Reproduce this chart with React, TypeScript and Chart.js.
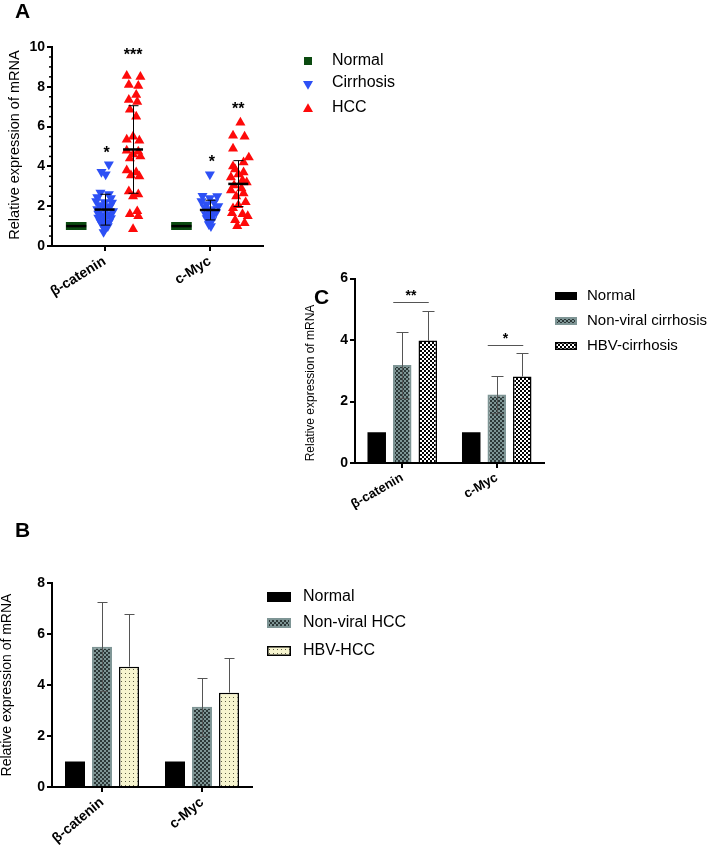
import React, { useEffect, useRef } from 'react';
import { Chart, registerables } from 'chart.js';

Chart.register(...registerables);

const FONT = 'Arial, "Liberation Sans", Helvetica, sans-serif';
Chart.defaults.font.family = FONT;
Chart.defaults.color = '#000';

// ---------- shared ----------
const genes = ['β-catenin', 'c-Myc'];
const yTitle = 'Relative expression of mRNA';

// ---------- Panel A (scatter) ----------
const aSeries = ['Normal', 'Cirrhosis', 'HCC'];
const aYTicks = [0, 2, 4, 6, 8, 10];
const aGroupOffset = [-0.27, 0, 0.27];

const aNormalBeta = [1, 1, 1, 1, 1];
const aNormalBetaSpread = [-6, -3, 0, 3, 6];
const aNormalMyc = [1, 1, 1, 1, 1];
const aNormalMycSpread = [-6, -3, 0, 3, 6];

const aCirrhosisBeta = [4.1, 3.72, 3.6, 2.68, 2.6, 2.45, 2.4, 2.25, 2.2, 2.18, 2.05, 2.0, 1.95, 1.85, 1.8, 1.75, 1.62, 1.6, 1.55, 1.42, 1.4, 1.35, 1.22, 1.2, 1.05, 1.0, 0.85, 0.7];
const aCirrhosisBetaSpread = [4, -3, 1, -4, 4, -7, 6, -8, 0, 7, -5, 5, 0, -7, 1, 8, -6, 5, 0, -6, 6, 0, -4, 4, -2, 3, 0, -1];
const aHccBeta = [8.55, 8.5, 8.1, 8.05, 7.6, 7.35, 7.25, 6.85, 6.5, 5.5, 5.35, 5.3, 4.8, 4.75, 4.6, 4.5, 4.4, 3.8, 3.7, 3.55, 3.5, 2.75, 2.6, 2.5, 1.75, 1.6, 1.5, 0.85];
const aHccBetaSpread = [-6, 7, -4, 5, 3, -4, 4, -3, 3, 0, -6, 6, -6, 5, 0, 7, -3, -6, 3, -2, 6, -4, 5, 0, 4, -3, 5, 0];

const aCirrhosisMyc = [3.6, 2.52, 2.5, 2.4, 2.25, 2.2, 2.1, 2.0, 1.95, 1.85, 1.8, 1.7, 1.6, 1.55, 1.5, 1.4, 1.3, 1.2, 1.1, 1.0];
const aCirrhosisMycSpread = [0, -7, 7, 0, -8, 4, -3, 8, -5, 2, -1, 6, -4, 3, 0, -3, 2, 0, -1, 1];
const aHccMyc = [6.2, 5.55, 5.5, 4.9, 4.45, 4.2, 4.0, 3.85, 3.7, 3.6, 3.45, 3.3, 3.2, 3.05, 2.9, 2.8, 2.65, 2.5, 2.2, 2.05, 1.9, 1.65, 1.6, 1.5, 1.3, 1.15, 1.0];
const aHccMycSpread = [2, -5, 6, -5, 10, 5, -5, -3, 5, 0, -7, 4, 8, -4, 3, -7, 5, -2, 7, 0, -5, -6, 4, 9, -3, 6, -1];

const aNormalMean = [1, 1];
const aCirrhosisMean = [1.83, 1.81];
const aCirrhosisSdLow = [1.05, 1.31];
const aCirrhosisSdHigh = [2.6, 2.3];
const aHccMean = [4.85, 3.12];
const aHccSdLow = [2.65, 1.98];
const aHccSdHigh = [7.05, 4.29];

const aCirrhosisSig = ['*', '*'];
const aCirrhosisSigY = [4.85, 4.4];
const aHccSig = ['***', '**'];
const aHccSigY = [9.8, 7.1];

// ---------- Panel B (bars) ----------
const bSeries = ['Normal', 'Non-viral HCC', 'HBV-HCC'];
const bNormal = [1, 1];
const bNonViral = [5.5, 3.15];
const bNonViralSd = [1.75, 1.14];
const bHbv = [4.72, 3.7];
const bHbvSd = [2.05, 1.35];

// ---------- Panel C (bars) ----------
const cSeries = ['Normal', 'Non-viral cirrhosis', 'HBV-cirrhosis'];
const cNormal = [1, 1];
const cNonViral = [3.19, 2.23];
const cNonViralSd = [1.08, 0.59];
const cHbv = [3.98, 2.81];
const cHbvSd = [0.96, 0.76];
const cSigLabels = ['**', '*'];
const cSigLevel = [5.24, 3.84];

// ---------- colours ----------
const GREEN = '#0b4a10';
const BLUE = '#2d50f5';
const RED = '#fe0a0a';
const TEAL = '#7e9595';

function makePattern(bg: string, fg: string, size: number, cells: number[][]) {
  const c = document.createElement('canvas');
  c.width = size;
  c.height = size;
  const g = c.getContext('2d')!;
  g.fillStyle = bg;
  g.fillRect(0, 0, size, size);
  g.fillStyle = fg;
  cells.forEach(([x, y, w, h]) => g.fillRect(x, y, w, h));
  return g.createPattern(c, 'repeat')!;
}

function axisCommon(max: number, yWidth: number) {
  return {
    min: 0,
    max,
    ticks: { stepSize: 2, font: { weight: 'bold', size: 14 }, padding: 2, color: '#000' },
    grid: { display: true, drawOnChartArea: false, drawTicks: true, tickLength: 5, lineWidth: 2, color: '#000' },
    border: { display: true, color: '#000', width: 2 },
    afterFit: (s: any) => {
      s.width = yWidth;
      s.paddingTop = 0;
      s.paddingBottom = 0;
      s.paddingLeft = 0;
      s.paddingRight = 0;
    },
  };
}

function xCommon(height: number, rotation: number, fontSize: number) {
  return {
    ticks: { font: { weight: 'bold', size: fontSize }, minRotation: rotation, maxRotation: rotation, padding: 2, autoSkip: false, color: '#000' },
    grid: { display: true, drawOnChartArea: false, drawTicks: true, tickLength: 5, lineWidth: 2, color: '#000', offset: false },
    border: { display: true, color: '#000', width: 2 },
    afterFit: (s: any) => {
      s.height = height;
      s.paddingLeft = 0;
      s.paddingRight = 0;
      s.paddingTop = 0;
      s.paddingBottom = 0;
    },
  };
}

function drawText(ctx: CanvasRenderingContext2D, text: string, x: number, y: number, font: string, align: CanvasTextAlign = 'left', baseline: CanvasTextBaseline = 'alphabetic') {
  ctx.font = font;
  ctx.fillStyle = '#000';
  ctx.textAlign = align;
  ctx.textBaseline = baseline;
  ctx.fillText(text, x, y);
}

function drawYTitle(ctx: CanvasRenderingContext2D, x: number, y: number, size: number) {
  ctx.save();
  ctx.translate(x, y);
  ctx.rotate(-Math.PI / 2);
  drawText(ctx, yTitle, 0, 0, `${size}px ${FONT}`, 'center', 'middle');
  ctx.restore();
}

function triPath(ctx: CanvasRenderingContext2D, x: number, y: number, r: number, down: boolean) {
  ctx.beginPath();
  for (let k = 0; k < 3; k++) {
    const a = (down ? Math.PI : 0) + (k * 2 * Math.PI) / 3;
    const px = x + Math.sin(a) * r;
    const py = y - Math.cos(a) * r;
    if (k === 0) ctx.moveTo(px, py);
    else ctx.lineTo(px, py);
  }
  ctx.closePath();
}

// ---------- Panel A chart ----------
function pts(vals: number[], spread: number[], gene: number, group: number) {
  return vals.map((v, i) => ({ x: gene + 1 + aGroupOffset[group] + spread[i] / 100, y: v }));
}

const aPlugin = {
  id: 'aExtras',
  afterDatasetsDraw(chart: any) {
    const ctx: CanvasRenderingContext2D = chart.ctx;
    const xs = chart.scales.x;
    const ys = chart.scales.y;
    ctx.save();
    ctx.strokeStyle = '#000';
    ctx.lineWidth = 1.5;
    for (let v = 0.5; v < 10; v += 0.5) {
      if (Math.abs(v % 2) < 1e-6) continue;
      const py = ys.getPixelForValue(v);
      ctx.beginPath();
      ctx.moveTo(chart.chartArea.left - 3, py);
      ctx.lineTo(chart.chartArea.left, py);
      ctx.stroke();
    }
    const sets = [
      { mean: aNormalMean, lo: null as number[] | null, hi: null as number[] | null, group: 0 },
      { mean: aCirrhosisMean, lo: aCirrhosisSdLow, hi: aCirrhosisSdHigh, group: 1 },
      { mean: aHccMean, lo: aHccSdLow, hi: aHccSdHigh, group: 2 },
    ];
    sets.forEach((s) => {
      s.mean.forEach((m, gi) => {
        const cx = xs.getPixelForValue(gi + 1 + aGroupOffset[s.group]);
        if (s.lo && s.hi) {
          const t = ys.getPixelForValue(s.hi[gi]);
          const b = ys.getPixelForValue(s.lo[gi]);
          ctx.lineWidth = 1;
          ctx.strokeStyle = '#000';
          ctx.beginPath();
          const xx = Math.round(cx) + 0.5;
          ctx.moveTo(xx, t);
          ctx.lineTo(xx, b);
          ctx.moveTo(xx - 5, t);
          ctx.lineTo(xx + 5, t);
          ctx.moveTo(xx - 5, b);
          ctx.lineTo(xx + 5, b);
          ctx.stroke();
        }
        const my = ys.getPixelForValue(m);
        ctx.lineWidth = 2.5;
        ctx.beginPath();
        ctx.moveTo(cx - 10, my);
        ctx.lineTo(cx + 10, my);
        ctx.stroke();
      });
    });
    const starFont = `bold 16px ${FONT}`;
    aCirrhosisSig.forEach((t, gi) => {
      drawText(ctx, t, xs.getPixelForValue(gi + 1 + aGroupOffset[1]) + 2, ys.getPixelForValue(aCirrhosisSigY[gi]) + 9, starFont, 'center');
    });
    aHccSig.forEach((t, gi) => {
      drawText(ctx, t, xs.getPixelForValue(gi + 1 + aGroupOffset[2]), ys.getPixelForValue(aHccSigY[gi]) + 9, starFont, 'center');
    });
    ctx.restore();
  },
  afterDraw(chart: any) {
    const ctx: CanvasRenderingContext2D = chart.ctx;
    ctx.save();
    drawText(ctx, 'A', 15, 18, `bold 21px ${FONT}`);
    drawYTitle(ctx, 15, 145, 14.5);
    const lx = 308;
    const ly = [61, 83, 108];
    ctx.fillStyle = GREEN;
    ctx.fillRect(lx - 4, ly[0] - 4, 8, 8);
    ctx.fillStyle = BLUE;
    triPath(ctx, lx, ly[1] + 1, 5.8, true);
    ctx.fill();
    ctx.fillStyle = RED;
    triPath(ctx, lx, ly[2] + 1, 5.8, false);
    ctx.fill();
    aSeries.forEach((s, i) => drawText(ctx, s, 332, ly[i], `16px ${FONT}`, 'left', 'middle'));
    ctx.restore();
  },
};

function makeA(canvas: HTMLCanvasElement) {
  const H = 300;
  return new Chart(canvas, {
    type: 'scatter',
    data: {
      datasets: [
        {
          label: aSeries[0],
          data: [...pts(aNormalBeta, aNormalBetaSpread, 0, 0), ...pts(aNormalMyc, aNormalMycSpread, 1, 0)],
          pointStyle: 'rect',
          pointRadius: 5.66,
          pointBackgroundColor: GREEN,
          pointBorderWidth: 0,
        },
        {
          label: aSeries[1],
          data: [...pts(aCirrhosisBeta, aCirrhosisBetaSpread, 0, 1), ...pts(aCirrhosisMyc, aCirrhosisMycSpread, 1, 1)],
          pointStyle: 'triangle',
          pointRotation: 180,
          pointRadius: 5.8,
          pointBackgroundColor: BLUE,
          pointBorderWidth: 0,
        },
        {
          label: aSeries[2],
          data: [...pts(aHccBeta, aHccBetaSpread, 0, 2), ...pts(aHccMyc, aHccMycSpread, 1, 2)],
          pointStyle: 'triangle',
          pointRadius: 5.8,
          pointBackgroundColor: RED,
          pointBorderWidth: 0,
        },
      ] as any,
    },
    options: {
      responsive: false,
      animation: false,
      devicePixelRatio: 1,
      events: [],
      layout: { autoPadding: false, padding: { left: 0, top: 47, right: 480 - 262.5, bottom: 0 } },
      plugins: { legend: { display: false }, tooltip: { enabled: false } },
      scales: {
        x: {
          type: 'linear',
          min: 0.5,
          max: 2.5,
          afterBuildTicks: (s: any) => {
            s.ticks = [{ value: 1 }, { value: 2 }];
          },
          ...xCommon(H - 246, 32, 14),
          ticks: {
            ...xCommon(H - 246, 32, 14).ticks,
            callback: (v: any) => genes[Math.round(Number(v)) - 1],
          },
        } as any,
        y: {
          ...axisCommon(10, 52),
          afterBuildTicks: (s: any) => {
            s.ticks = aYTicks.map((v) => ({ value: v }));
          },
        } as any,
      },
    } as any,
    plugins: [aPlugin],
  });
}

// ---------- bar panels ----------
function barPlugin(p: any) {
  return {
    id: p.id,
    afterDatasetsDraw(chart: any) {
      const ctx: CanvasRenderingContext2D = chart.ctx;
      const ys = chart.scales.y;
      ctx.save();
      ctx.strokeStyle = p.errColor;
      ctx.lineWidth = 1;
      const drawErr = (ds: number, vals: number[], sds: number[], both: boolean) => {
        const meta = chart.getDatasetMeta(ds);
        meta.data.forEach((el: any, i: number) => {
          const x = Math.round(el.x) + 0.5;
          const top = Math.round(ys.getPixelForValue(vals[i] + sds[i])) + 0.5;
          const mid = ys.getPixelForValue(vals[i]);
          const bot = Math.round(ys.getPixelForValue(vals[i] - sds[i])) + 0.5;
          ctx.beginPath();
          ctx.moveTo(x, both ? bot : mid);
          ctx.lineTo(x, top);
          ctx.moveTo(x - p.cap / 2, top);
          ctx.lineTo(x + p.cap / 2, top);
          if (both) {
            ctx.moveTo(x - p.cap / 2, bot);
            ctx.lineTo(x + p.cap / 2, bot);
          }
          ctx.stroke();
        });
      };
      drawErr(1, p.nonViral, p.nonViralSd, true);
      drawErr(2, p.hbv, p.hbvSd, false);
      if (p.sigLabels && p.sigLevel) {
        const m1 = chart.getDatasetMeta(1);
        const m2 = chart.getDatasetMeta(2);
        p.sigLabels.forEach((t: string, i: number) => {
          const x1 = m1.data[i].x - 9;
          const x2 = m2.data[i].x + 1;
          const ly = Math.round(ys.getPixelForValue(p.sigLevel[i])) + 0.5;
          ctx.strokeStyle = '#555';
          ctx.beginPath();
          ctx.moveTo(x1, ly);
          ctx.lineTo(x2, ly);
          ctx.stroke();
          drawText(ctx, t, (x1 + x2) / 2, ly - 3, `bold 14px ${FONT}`, 'center');
        });
      }
      ctx.restore();
    },
    afterDraw(chart: any) {
      const ctx: CanvasRenderingContext2D = chart.ctx;
      ctx.save();
      drawText(ctx, p.label, p.labelX, p.labelY, `bold 21px ${FONT}`);
      drawYTitle(ctx, p.titleX, p.titleY, p.titleSize);
      const pats = p.patterns();
      p.series.forEach((s: string, i: number) => {
        const y = p.legY[i];
        const pt = pats[i];
        ctx.fillStyle = pt.fill;
        ctx.fillRect(p.swX, y - p.swH / 2, p.swW, p.swH);
        if (pt.bw > 0) {
          ctx.strokeStyle = pt.border;
          ctx.lineWidth = pt.bw;
          ctx.strokeRect(p.swX + pt.bw / 2, y - p.swH / 2 + pt.bw / 2, p.swW - pt.bw, p.swH - pt.bw);
        }
        drawText(ctx, s, p.legTextX, y, `${p.legFont}px ${FONT}`, 'left', 'middle');
      });
      ctx.restore();
    },
  };
}

function makeB(canvas: HTMLCanvasElement) {
  const W = 500;
  const H = 355;
  const pNon = makePattern(TEAL, '#2c3838', 4, [[0, 0, 2, 2], [2, 2, 2, 2]]);
  const pDots = makePattern('#f7f5cf', '#5d5d45', 4, [[1, 1, 1, 1]]);
  const styles = () => [
    { fill: '#000', border: '#000', bw: 0 },
    { fill: pNon, border: TEAL, bw: 2 },
    { fill: pDots, border: '#000', bw: 1.5 },
  ];
  const st = styles();
  return new Chart(canvas, {
    type: 'bar',
    data: {
      labels: genes,
      datasets: [
        { label: bSeries[0], data: bNormal, backgroundColor: st[0].fill, borderWidth: 0 },
        { label: bSeries[1], data: bNonViral, backgroundColor: st[1].fill, borderColor: st[1].border, borderWidth: 2 },
        { label: bSeries[2], data: bHbv, backgroundColor: st[2].fill, borderColor: st[2].border, borderWidth: 1.5 },
      ],
    },
    options: {
      responsive: false,
      animation: false,
      devicePixelRatio: 1,
      events: [],
      datasets: { bar: { categoryPercentage: 0.81, barPercentage: 0.74 } },
      layout: { autoPadding: false, padding: { left: 0, top: 83, right: W - 252, bottom: 0 } },
      plugins: { legend: { display: false }, tooltip: { enabled: false } },
      scales: {
        x: { ...xCommon(H - 287, 40, 14) } as any,
        y: { ...axisCommon(8, 52) } as any,
      },
    } as any,
    plugins: [
      barPlugin({
        id: 'bExtras',
        label: 'B',
        labelX: 15,
        labelY: 37,
        titleX: 7,
        titleY: 185,
        titleSize: 14,
        nonViral: bNonViral,
        nonViralSd: bNonViralSd,
        hbv: bHbv,
        hbvSd: bHbvSd,
        cap: 10,
        errColor: '#555',
        series: bSeries,
        swX: 267,
        swW: 24,
        swH: 10,
        legY: [97, 123, 151],
        legTextX: 303,
        legFont: 16,
        patterns: styles,
      }),
    ],
  });
}

function makeC(canvas: HTMLCanvasElement) {
  const W = 429;
  const H = 240;
  const pNon = makePattern(TEAL, '#2c3838', 4, [[0, 0, 2, 2], [2, 2, 2, 2]]);
  const pChk = makePattern('#ffffff', '#000000', 4, [[0, 0, 2, 2], [2, 2, 2, 2]]);
  const styles = () => [
    { fill: '#000', border: '#000', bw: 0 },
    { fill: pNon, border: TEAL, bw: 2 },
    { fill: pChk, border: '#000', bw: 1.5 },
  ];
  const st = styles();
  return new Chart(canvas, {
    type: 'bar',
    data: {
      labels: genes,
      datasets: [
        { label: cSeries[0], data: cNormal, backgroundColor: st[0].fill, borderWidth: 0 },
        { label: cSeries[1], data: cNonViral, backgroundColor: st[1].fill, borderColor: st[1].border, borderWidth: 2 },
        { label: cSeries[2], data: cHbv, backgroundColor: st[2].fill, borderColor: st[2].border, borderWidth: 1.5 },
      ],
    },
    options: {
      responsive: false,
      animation: false,
      devicePixelRatio: 1,
      events: [],
      datasets: { bar: { categoryPercentage: 0.81, barPercentage: 0.725 } },
      layout: { autoPadding: false, padding: { left: 0, top: 8.5, right: W - 264, bottom: 0 } },
      plugins: { legend: { display: false }, tooltip: { enabled: false } },
      scales: {
        x: { ...xCommon(H - 193, 30, 13) } as any,
        y: { ...axisCommon(6, 75) } as any,
      },
    } as any,
    plugins: [
      barPlugin({
        id: 'cExtras',
        label: 'C',
        labelX: 34,
        labelY: 34,
        titleX: 31,
        titleY: 113,
        titleSize: 12,
        nonViral: cNonViral,
        nonViralSd: cNonViralSd,
        hbv: cHbv,
        hbvSd: cHbvSd,
        cap: 12,
        errColor: '#555',
        series: cSeries,
        swX: 275,
        swW: 22,
        swH: 8,
        legY: [26, 51, 76],
        legTextX: 307,
        legFont: 15,
        patterns: styles,
        sigLabels: cSigLabels,
        sigLevel: cSigLevel,
      }),
    ],
  });
}

export default function App() {
  const aRef = useRef<HTMLCanvasElement>(null);
  const bRef = useRef<HTMLCanvasElement>(null);
  const cRef = useRef<HTMLCanvasElement>(null);

  useEffect(() => {
    const a = makeA(aRef.current!);
    const b = makeB(bRef.current!);
    const c = makeC(cRef.current!);
    return () => {
      a.destroy();
      b.destroy();
      c.destroy();
    };
  }, []);

  return (
    <div style={{ position: 'absolute', left: 0, top: 0, width: 709, height: 855, background: '#fff', overflow: 'hidden' }}>
      <canvas ref={aRef} width={480} height={300} style={{ position: 'absolute', left: 0, top: 0, width: 480, height: 300 }} />
      <canvas ref={cRef} width={429} height={240} style={{ position: 'absolute', left: 280, top: 270, width: 429, height: 240 }} />
      <canvas ref={bRef} width={500} height={355} style={{ position: 'absolute', left: 0, top: 500, width: 500, height: 355 }} />
    </div>
  );
}
